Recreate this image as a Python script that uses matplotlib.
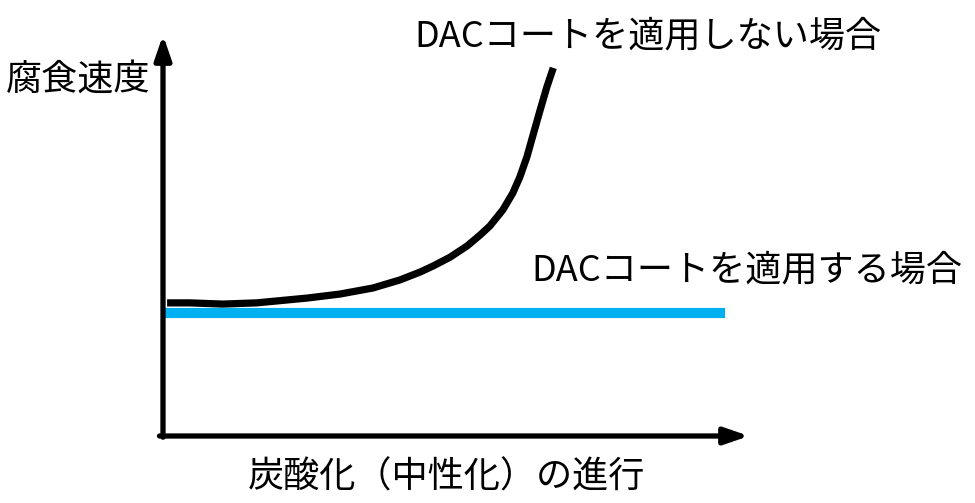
import numpy as np
import matplotlib.pyplot as plt

plt.rcParams['font.family'] = ['Noto Sans CJK JP', 'DejaVu Sans']

# progress of carbonation (0-100) vs corrosion rate (0-100)
progress_without = [0.7, 4.6, 10.2, 16.0, 24.6, 30.2, 35.8, 40.4, 43.9, 46.1, 49.0, 51.9, 54.1, 55.8,
                    58.0, 59.7, 60.9, 62.1, 63.1, 64.3, 65.5, 66.6]
rate_without = [33.2, 33.2, 32.9, 33.2, 34.4, 35.4, 36.9, 38.9, 40.9, 42.4, 44.6, 47.4, 50.1, 52.4,
                56.4, 60.6, 64.6, 69.6, 74.8, 81.0, 87.0, 91.8]

progress_with = [0.3, 95.9]
rate_with = [30.7, 30.7]

label_without = 'DACコートを適用しない場合'
label_with = 'DACコートを適用する場合'
ylabel = '腐食速度'
xlabel = '炭酸化（中性化）の進行'

W, H = 975, 503
fig = plt.figure(figsize=(W / 100, H / 100), dpi=100)

# axes box: origin at (163, 436) px, arrow tips at x=749 px and y=35 px
x0, y0, x1, y1 = 163, 436, 749, 35
ax = fig.add_axes([x0 / W, 1 - y0 / H, (x1 - x0) / W, (y0 - y1) / H])
ax.set_xlim(0, 100)
ax.set_ylim(0, 100)
ax.axis('off')

ax.plot(progress_with, rate_with, color='#00B0F0', lw=7.3, solid_capstyle='butt', clip_on=False)
ax.plot(progress_without, rate_without, color='black', lw=5.2, solid_capstyle='butt',
        solid_joinstyle='round', clip_on=False)

# axes arrows
arrow = dict(arrowstyle='-|>,head_length=1.45,head_width=0.5', color='black', lw=3.8,
             shrinkA=0, shrinkB=0)
ax.annotate('', xy=(0, 100), xytext=(0, -0.3), arrowprops=arrow, annotation_clip=False)
ax.annotate('', xy=(100, 0), xytext=(-0.6, 0), arrowprops=arrow, annotation_clip=False)

fs = 26
fig.text(6 / W, 1 - 80 / H, ylabel, fontsize=fs, ha='left', va='center')
fig.text(414 / W, 1 - 36 / H, label_without, fontsize=fs, ha='left', va='center')
fig.text(531 / W, 1 - 270 / H, label_with, fontsize=fs, ha='left', va='center')
fig.text(446 / W, 1 - 478 / H, xlabel, fontsize=fs, ha='center', va='center')

plt.savefig('out.png', dpi=100, facecolor='white')
